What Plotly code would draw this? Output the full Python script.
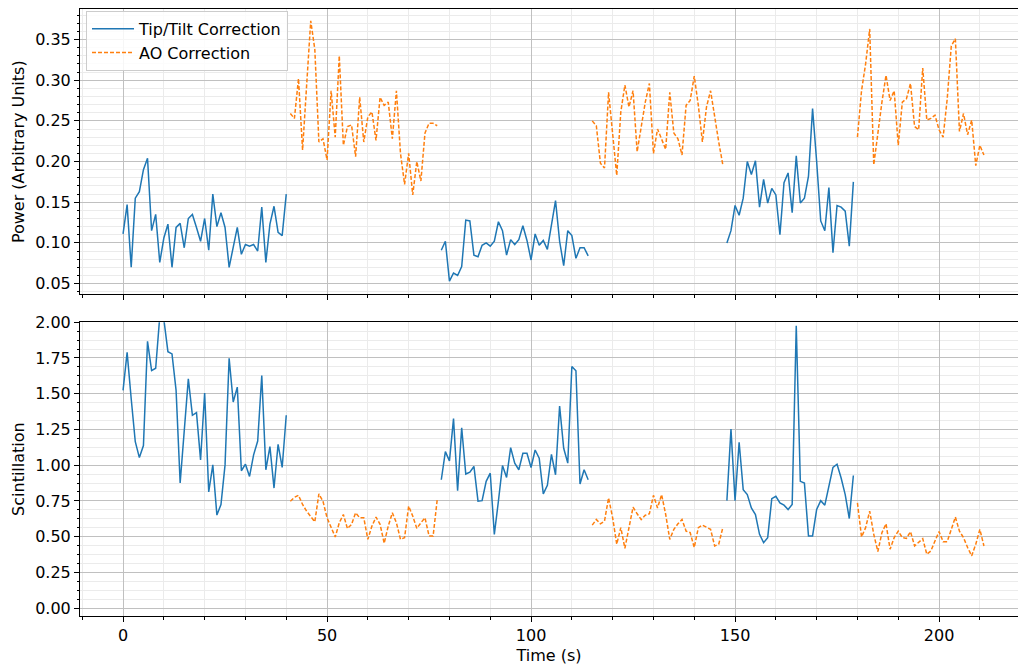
import plotly.graph_objects as go

# ---- data (one sample per second) ----
tt_start = [0, 78, 148]
ao_start = [41, 115, 180]

tt_power_1 = [0.111, 0.147, 0.070, 0.155, 0.163, 0.190, 0.204, 0.115, 0.135, 0.076, 0.106,
              0.123, 0.070, 0.119, 0.124, 0.094, 0.130, 0.135, 0.119, 0.102, 0.130, 0.091,
              0.160, 0.120, 0.137, 0.119, 0.070, 0.094, 0.119, 0.086, 0.098, 0.096, 0.098,
              0.090, 0.144, 0.076, 0.123, 0.145, 0.113, 0.109, 0.160]
tt_power_2 = [0.091, 0.102, 0.053, 0.063, 0.060, 0.071, 0.128, 0.127, 0.085, 0.083, 0.097,
              0.100, 0.096, 0.102, 0.126, 0.115, 0.085, 0.104, 0.098, 0.104, 0.121, 0.103,
              0.079, 0.111, 0.097, 0.103, 0.092, 0.125, 0.152, 0.102, 0.072, 0.115, 0.109,
              0.081, 0.094, 0.094, 0.084]
tt_power_3 = [0.100, 0.115, 0.146, 0.134, 0.155, 0.200, 0.184, 0.201, 0.144, 0.178, 0.149,
              0.167, 0.159, 0.110, 0.174, 0.186, 0.137, 0.207, 0.149, 0.155, 0.182, 0.265,
              0.200, 0.127, 0.115, 0.168, 0.088, 0.146, 0.144, 0.139, 0.096, 0.175]

ao_power_1 = [0.259, 0.253, 0.302, 0.214, 0.294, 0.373, 0.338, 0.224, 0.228, 0.202, 0.287,
              0.230, 0.330, 0.220, 0.243, 0.245, 0.206, 0.279, 0.224, 0.255, 0.261, 0.226,
              0.279, 0.269, 0.273, 0.228, 0.287, 0.210, 0.172, 0.210, 0.159, 0.200, 0.176,
              0.235, 0.247, 0.247, 0.244]
ao_power_2 = [0.250, 0.244, 0.198, 0.192, 0.285, 0.233, 0.183, 0.261, 0.294, 0.267, 0.287,
              0.212, 0.243, 0.273, 0.296, 0.210, 0.240, 0.228, 0.215, 0.285, 0.235, 0.228,
              0.208, 0.269, 0.275, 0.305, 0.269, 0.224, 0.267, 0.287, 0.253, 0.224, 0.196]
ao_power_3 = [0.230, 0.287, 0.320, 0.363, 0.196, 0.237, 0.273, 0.306, 0.275, 0.287, 0.220,
              0.273, 0.277, 0.296, 0.243, 0.239, 0.315, 0.251, 0.253, 0.257, 0.239, 0.230,
              0.277, 0.342, 0.351, 0.237, 0.259, 0.233, 0.251, 0.195, 0.220, 0.208]

tt_scint_1 = [1.523, 1.789, 1.465, 1.164, 1.053, 1.137, 1.866, 1.662, 1.678, 2.04, 2.02,
              1.794, 1.778, 1.523, 0.875, 1.210, 1.604, 1.349, 1.368, 1.037, 1.505, 0.813,
              1.002, 0.651, 0.725, 1.002, 1.748, 1.442, 1.546, 0.961, 1.007, 0.921, 1.072,
              1.169, 1.627, 0.968, 1.130, 0.840, 1.146, 0.984, 1.349]
tt_scint_2 = [0.898, 1.095, 1.030, 1.326, 0.822, 1.262, 0.938, 0.951, 0.991, 0.748, 0.752,
              0.887, 0.944, 0.516, 0.748, 0.998, 0.914, 1.123, 1.014, 0.968, 1.083, 1.083,
              0.984, 1.106, 1.049, 0.799, 0.859, 1.076, 0.933, 1.414, 1.118, 1.014, 1.690,
              1.660, 0.868, 0.968, 0.898]
tt_scint_3 = [0.752, 1.252, 0.752, 1.160, 0.829, 0.794, 0.701, 0.655, 0.516, 0.458, 0.493,
              0.766, 0.782, 0.736, 0.720, 0.690, 0.725, 1.975, 0.887, 0.875, 0.505, 0.505,
              0.690, 0.752, 0.720, 0.863, 0.984, 1.007, 0.910, 0.794, 0.627, 0.928]

ao_scint_1 = [0.748, 0.775, 0.789, 0.725, 0.678, 0.644, 0.604, 0.799, 0.748, 0.632, 0.567,
              0.498, 0.597, 0.655, 0.556, 0.586, 0.667, 0.632, 0.632, 0.481, 0.574, 0.637,
              0.586, 0.454, 0.574, 0.667, 0.597, 0.481, 0.493, 0.713, 0.644, 0.558, 0.597,
              0.632, 0.505, 0.505, 0.759]
ao_scint_2 = [0.581, 0.620, 0.590, 0.609, 0.771, 0.632, 0.447, 0.563, 0.419, 0.563, 0.706,
              0.660, 0.620, 0.650, 0.660, 0.789, 0.701, 0.794, 0.655, 0.481, 0.551, 0.590,
              0.620, 0.539, 0.528, 0.424, 0.563, 0.581, 0.563, 0.551, 0.435, 0.447, 0.563]
ao_scint_3 = [0.736, 0.498, 0.563, 0.678, 0.516, 0.396, 0.528, 0.590, 0.412, 0.493, 0.539,
              0.493, 0.488, 0.535, 0.435, 0.458, 0.486, 0.377, 0.400, 0.470, 0.535, 0.465,
              0.465, 0.551, 0.637, 0.539, 0.493, 0.424, 0.366, 0.447, 0.551, 0.435]

x_tick_vals = [0, 50, 100, 150, 200]
x_tick_text = ["0", "50", "100", "150", "200"]


def join_segments(starts, segments):
    xs, ys = [], []
    for s, seg in zip(starts, segments):
        xs += [s + i for i in range(len(seg))] + [None]
        ys += list(seg) + [None]
    return xs[:-1], ys[:-1]


BLUE = "#1f77b4"
ORANGE = "#ff7f0e"
FONT = "DejaVu Sans"

fig = go.Figure()

x, y = join_segments(tt_start, [tt_power_1, tt_power_2, tt_power_3])
fig.add_trace(go.Scatter(x=x, y=y, mode="lines", name="Tip/Tilt Correction",
                         line=dict(color=BLUE, width=1.5), xaxis="x", yaxis="y",
                         connectgaps=False))
x, y = join_segments(ao_start, [ao_power_1, ao_power_2, ao_power_3])
fig.add_trace(go.Scatter(x=x, y=y, mode="lines", name="AO Correction",
                         line=dict(color=ORANGE, width=1.5, dash="4px,2px"),
                         xaxis="x", yaxis="y", connectgaps=False))
x, y = join_segments(tt_start, [tt_scint_1, tt_scint_2, tt_scint_3])
fig.add_trace(go.Scatter(x=x, y=y, mode="lines", showlegend=False,
                         line=dict(color=BLUE, width=1.5), xaxis="x2", yaxis="y2",
                         connectgaps=False))
x, y = join_segments(ao_start, [ao_scint_1, ao_scint_2, ao_scint_3])
fig.add_trace(go.Scatter(x=x, y=y, mode="lines", showlegend=False,
                         line=dict(color=ORANGE, width=1.5, dash="4px,2px"),
                         xaxis="x2", yaxis="y2", connectgaps=False))

GRID = "#c0c0c0"
MINOR_GRID = "#ebebeb"

common_x = dict(range=[-10.55, 219.35], tickmode="array", tickvals=x_tick_vals,
                ticktext=x_tick_text, ticks="outside", ticklen=5, tickcolor="black",
                showline=True, linecolor="black", linewidth=1, mirror=True,
                showgrid=True, gridcolor=GRID, gridwidth=1, zeroline=False,
                minor=dict(dtick=10, tick0=0, ticks="outside", ticklen=2.5,
                           tickcolor="black", showgrid=True, gridcolor=MINOR_GRID),
                tickfont=dict(family=FONT, size=16, color="black"))

fig.update_layout(
    width=1018, height=665,
    margin=dict(l=80, r=0, t=6, b=46),
    paper_bgcolor="white", plot_bgcolor="white",
    font=dict(family=FONT, size=16, color="black"),
    xaxis=dict(common_x, anchor="y", showticklabels=False, matches="x2"),
    xaxis2=dict(common_x, anchor="y2",
                title=dict(text="Time (s)", font=dict(family=FONT, size=16), standoff=9)),
    yaxis=dict(domain=[0.5297, 1.0], range=[0.0366, 0.3875], dtick=0.05, tick0=0,
               tickformat=".2f", ticks="outside", ticklen=5, tickcolor="black",
               showline=True, linecolor="black", linewidth=1, zeroline=False,
               showgrid=True, gridcolor=GRID,
               minor=dict(dtick=0.01, tick0=0, ticks="outside", ticklen=2.5,
                          tickcolor="black", showgrid=True, gridcolor=MINOR_GRID),
               tickfont=dict(family=FONT, size=16, color="black"),
               title=dict(text="Power (Arbitrary Units)", font=dict(family=FONT, size=16),
                          standoff=6)),
    yaxis2=dict(domain=[0.0, 0.484], range=[-0.055, 2.0], dtick=0.25, tick0=0,
                tickformat=".2f", ticks="outside", ticklen=5, tickcolor="black",
                showline=True, linecolor="black", linewidth=1, zeroline=False,
                showgrid=True, gridcolor=GRID,
                minor=dict(dtick=0.0625, tick0=0, ticks="outside", ticklen=2.5,
                           tickcolor="black", showgrid=True, gridcolor=MINOR_GRID),
                tickfont=dict(family=FONT, size=16, color="black"),
                title=dict(text="Scintillation", font=dict(family=FONT, size=16),
                           standoff=6)),
    legend=dict(x=0.0064, y=0.997, xanchor="left", yanchor="top",
                bgcolor="rgba(255,255,255,0.85)", bordercolor="#cccccc", borderwidth=1,
                font=dict(family=FONT, size=16, color="black"), itemwidth=42,
                tracegroupgap=2),
    showlegend=True,
)

fig.write_html("out.html")
